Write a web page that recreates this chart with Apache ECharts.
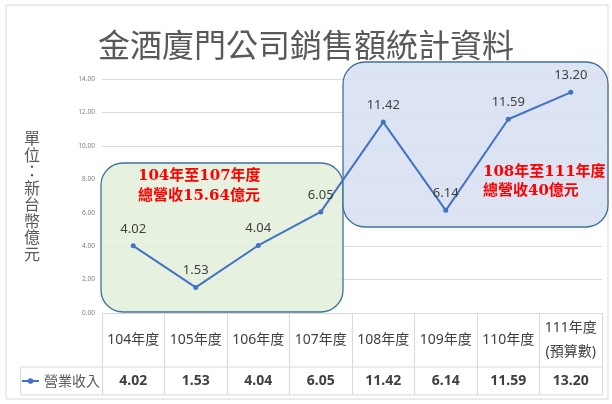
<!DOCTYPE html>
<html>
<head>
<meta charset="utf-8">
<script src="https://cdn.jsdelivr.net/npm/echarts@6/dist/echarts.min.js"></script>
<style>
  html, body { margin: 0; padding: 0; background: #fff; }
  #chart { width: 612px; height: 404px; }
</style>
</head>
<body>
<div id="chart"></div>
<script>
const chartTitle = '金酒廈門公司銷售額統計資料';
const axisUnit = '單位：新台幣億元';
const seriesName = '營業收入';
const categories = ['104年度', '105年度', '106年度', '107年度', '108年度', '109年度', '110年度', '111年度\n(預算數)'];
const revenue = [4.02, 1.53, 4.04, 6.05, 11.42, 6.14, 11.59, 13.20];
const yMin = 0, yMax = 14, yStep = 2;
const noteLeft = ['104年至107年度', '總營收15.64億元'];
const noteRight = ['108年至111年度', '總營收40億元'];

const FONT = "'Noto Sans', 'Noto Sans CJK TC', sans-serif";
const CJK = "'Noto Sans CJK TC', 'Noto Sans', sans-serif";
const SERIF = "'DejaVu Serif', 'Noto Sans CJK TC', serif";
const GRID = '#d9d9d9';

const chart = echarts.init(document.getElementById('chart'));
chart.setOption({
  backgroundColor: '#ffffff',
  animation: false,
  title: {
    text: chartTitle,
    left: 'center',
    top: 24,
    textStyle: { fontSize: 32, fontWeight: 'normal', color: '#595959', fontFamily: CJK }
  },
  legend: {
    data: [seriesName],
    left: 21,
    top: 374,
    padding: 0,
    itemWidth: 17,
    itemHeight: 7,
    textStyle: { fontSize: 14, color: '#595959', fontFamily: CJK }
  },
  grid: { left: 102, right: 10, top: 79, bottom: 91, containLabel: false },
  xAxis: [
    {
      type: 'category',
      data: categories,
      boundaryGap: true,
      position: 'bottom',
      axisLine: { show: true, lineStyle: { color: GRID, width: 1 } },
      axisTick: { show: true, interval: 0, alignWithLabel: false, length: 82, lineStyle: { color: GRID, width: 1 } },
      axisLabel: {
        interval: 0, margin: 27, verticalAlign: 'middle',
        fontSize: 14, lineHeight: 24, color: '#404040', fontFamily: FONT
      },
      splitLine: { show: false }
    },
    {
      type: 'category',
      data: categories,
      boundaryGap: true,
      position: 'bottom',
      axisLine: { show: false },
      axisTick: { show: false },
      axisLabel: {
        interval: 0, margin: 68, verticalAlign: 'middle',
        fontSize: 14, fontWeight: 'bold', color: '#404040', fontFamily: FONT,
        formatter: (v, i) => revenue[i].toFixed(2)
      },
      splitLine: { show: false }
    }
  ],
  yAxis: {
    type: 'value',
    min: yMin, max: yMax, interval: yStep,
    axisLine: { show: false },
    axisTick: { show: false },
    axisLabel: { fontSize: 6.5, color: '#808080', margin: 7, fontFamily: FONT, formatter: v => v.toFixed(2) },
    splitLine: { show: true, lineStyle: { color: GRID, width: 1 } }
  },
  series: [{
    name: seriesName,
    type: 'line',
    data: revenue,
    z: 5,
    symbol: 'circle',
    symbolSize: 5,
    lineStyle: { color: '#4472c4', width: 2 },
    itemStyle: { color: '#4472c4' },
    label: {
      show: true, position: 'top', distance: 8,
      fontSize: 13, color: '#404040', fontFamily: FONT,
      formatter: p => p.value.toFixed(2)
    }
  }],
  graphic: [
    { type: 'rect', z: -10, silent: true, shape: { x: 6, y: 5, width: 602, height: 394 },
      style: { fill: 'none', stroke: '#d9d9d9', lineWidth: 1 } },
    { type: 'rect', z: 3, silent: true, shape: { x: 101, y: 163, width: 242, height: 149, r: 22 },
      style: { fill: 'rgba(226,240,217,0.85)', stroke: '#41719c', lineWidth: 1.3 } },
    { type: 'rect', z: 4, silent: true, shape: { x: 343, y: 62, width: 265, height: 165, r: 22 },
      style: { fill: 'rgba(214,223,241,0.85)', stroke: '#41719c', lineWidth: 1.3 } },
    { type: 'text', z: 6, silent: true, style: {
        text: noteLeft.join('\n'), x: 138, y: 186, verticalAlign: 'middle', align: 'left',
        fontSize: 15, fontWeight: 'bold', fill: '#ff0000', lineHeight: 20, fontFamily: SERIF } },
    { type: 'text', z: 6, silent: true, style: {
        text: noteRight.join('\n'), x: 483, y: 181.5, verticalAlign: 'middle', align: 'left',
        fontSize: 15, fontWeight: 'bold', fill: '#ff0000', lineHeight: 19, fontFamily: SERIF } },
    { type: 'text', z: 6, silent: true, style: {
        text: axisUnit.split('').join('\n'), x: 32, y: 196, verticalAlign: 'middle', align: 'center',
        fontSize: 16, lineHeight: 16.5, fill: '#595959', fontFamily: CJK } },
    { type: 'line', z: 1, silent: true, shape: { x1: 20.5, y1: 367, x2: 602, y2: 367 }, style: { stroke: GRID, lineWidth: 1 } },
    { type: 'line', z: 1, silent: true, shape: { x1: 20.5, y1: 395, x2: 602, y2: 395 }, style: { stroke: GRID, lineWidth: 1 } },
    { type: 'line', z: 1, silent: true, shape: { x1: 20.5, y1: 367, x2: 20.5, y2: 395 }, style: { stroke: GRID, lineWidth: 1 } }
  ]
});
</script>
</body>
</html>
